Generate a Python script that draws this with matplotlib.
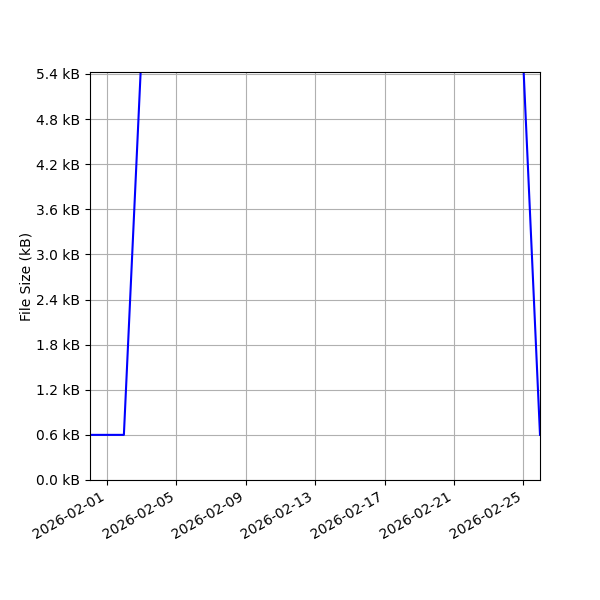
import datetime as dt
import matplotlib
matplotlib.use("Agg")
import matplotlib.pyplot as plt
import matplotlib.dates as mdates
from matplotlib.ticker import FuncFormatter, MultipleLocator

# fechas de las mediciones (una por dia, aprox.)
fechas = [dt.datetime(2026, 1, 31, 0, 34), dt.datetime(2026, 2, 1, 23, 25)]
for d in range(2, 25):
    fechas.append(dt.datetime(2026, 2, d, 23, 25))
fechas.append(dt.datetime(2026, 2, 25, 22, 50))

# tamaño del fichero en kB
tamanos = [0.6, 0.6] + [5.6] * 23 + [0.6]

fig, ax = plt.subplots(figsize=(6, 6), dpi=100)
ax.plot(fechas, tamanos, color='b', linewidth=1.5)

ax.set_xlim(fechas[0], fechas[-1])
ax.set_ylim(0, 5.425)
ax.yaxis.set_major_locator(MultipleLocator(0.6))
ax.yaxis.set_major_formatter(FuncFormatter(lambda v, p: "{:.1f} kB".format(v)))
ax.set_ylabel('File Size (kB)', labelpad=2)

ax.xaxis.set_major_locator(mdates.DayLocator(bymonthday=[1, 5, 9, 13, 17, 21, 25]))
ax.xaxis.set_major_formatter(mdates.DateFormatter('%Y-%m-%d'))
ax.grid(True)
fig.autofmt_xdate()

plt.subplots_adjust(left=0.15, right=0.9, top=0.88, bottom=0.2)
plt.savefig('out.png', dpi=100)
